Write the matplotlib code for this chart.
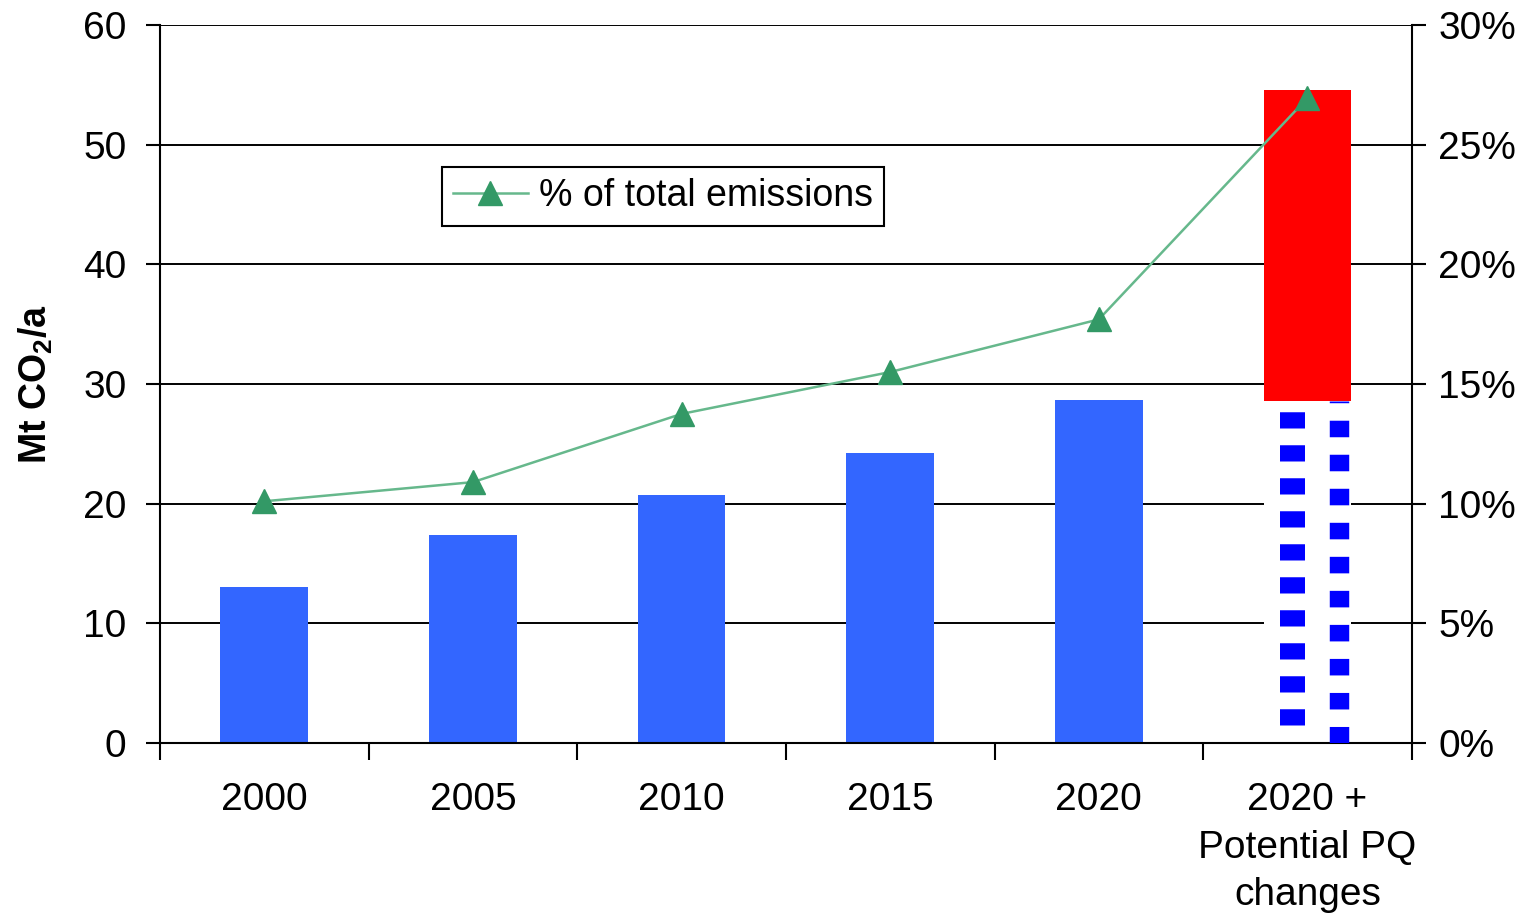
import matplotlib
matplotlib.use("Agg")
import matplotlib.pyplot as plt
import numpy as np

plt.rcParams['font.family'] = ['Liberation Sans', 'DejaVu Sans']
plt.rcParams['mathtext.fontset'] = 'custom'
plt.rcParams['mathtext.rm'] = 'Liberation Sans'
plt.rcParams['mathtext.bf'] = 'Liberation Sans:bold'

categories = ['2000', '2005', '2010', '2015', '2020', '2020 +\nPotential PQ\nchanges']
emissions = [13.0, 17.4, 20.7, 24.2, 28.7]
pq_base = 28.6
pq_total = 54.6
share_pct = [10.1, 10.9, 13.75, 15.5, 17.7, 26.95]

x = np.arange(len(categories))
bar_w = 0.42
fs = 28

fig = plt.figure(figsize=(15.23, 9.18), dpi=100)
ax = fig.add_axes([0.105, 0.1906, 0.822, 0.7822])

ax.set_axisbelow(True)
ax.grid(axis='y', color='black', linewidth=1.4)

# measured bars
ax.bar(x[:5], emissions, width=bar_w, color='#3366FF', zorder=2)

# last category: white base with dotted edges, red increment on top
last = x[-1]
ax.bar(last, pq_base, width=bar_w, color='white', zorder=2)
ax.vlines(last - 0.072, 1.5, pq_base, colors='#0000FF', linewidth=18,
          linestyles=(0, (0.65, 0.67)), zorder=3, capstyle='butt')
ax.vlines(last + 0.149, 0, pq_base, colors='#0000FF', linewidth=14,
          linestyles=(0, (0.85, 0.9)), zorder=3, capstyle='butt')
ax.bar(last, pq_total - pq_base, bottom=pq_base, width=bar_w, color='#FF0000', zorder=4)

ax.set_xlim(-0.5, len(categories) - 0.5)
ax.set_ylim(0, 60)
ax.set_yticks(range(0, 61, 10))
ax.set_xticks(x)
ax.set_xticklabels(categories, fontsize=fs, linespacing=1.42)
ax.set_xticks(np.arange(-0.5, len(categories), 1.0), minor=True)
ax.tick_params(axis='x', which='major', length=0, pad=28)
ax.tick_params(axis='x', which='minor', length=12, width=1.5, direction='out')
ax.tick_params(axis='y', labelsize=fs, length=10, width=1.5, direction='out', pad=14)
ax.set_ylabel('Mt CO$_\\mathbf{2}$/a', fontsize=27, fontweight='bold', labelpad=20)
for s in ['left', 'bottom']:
    ax.spines[s].set_linewidth(1.5)
ax.spines['top'].set_visible(False)
ax.spines['right'].set_visible(False)

ax2 = ax.twinx()
ax2.plot(x, share_pct, color='#66b88c', linewidth=1.8, marker='^',
         markersize=17, markerfacecolor='#339966', markeredgecolor='#339966',
         label='% of total emissions', zorder=5)
ax2.set_ylim(0, 30)
ax2.set_yticks(range(0, 31, 5))
ax2.set_yticklabels(['{}%'.format(v) for v in range(0, 31, 5)])
ax2.tick_params(axis='y', labelsize=fs, length=10, width=1.5, direction='out', pad=9)
ax2.spines['right'].set_linewidth(1.5)
ax2.spines['top'].set_visible(False)
ax2.spines['left'].set_visible(False)
ax2.spines['bottom'].set_visible(False)

leg = ax2.legend(loc='upper left', bbox_to_anchor=(0.225, 0.802), fontsize=27,
                 frameon=True, fancybox=False, framealpha=1, edgecolor='black',
                 handlelength=2.0, handletextpad=0.3, borderpad=0.3,
                 borderaxespad=0)
leg.get_frame().set_linewidth(1.5)

fig.savefig('out.png', dpi=100)
